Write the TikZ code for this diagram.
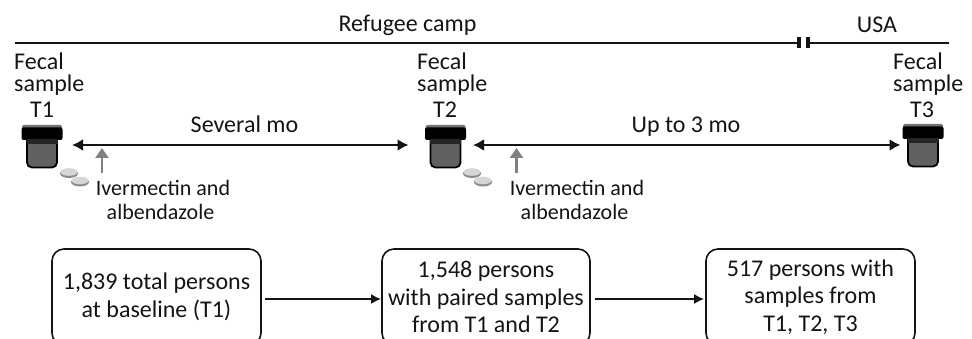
\documentclass[tikz,border=0pt]{standalone}
\usepackage{fontspec}
\setmainfont{Carlito}
\usetikzlibrary{arrows.meta,calc}
\definecolor{jarbody}{gray}{0.38}
\definecolor{pillc}{gray}{0.84}
\definecolor{inkc}{gray}{0.08}
\tikzset{
  x=1pt,y=-1pt,
  txt/.style={font=\fontsize{24}{24}\selectfont,text=inkc,inner sep=0pt,align=center,anchor=base},
  ltxt/.style={txt,anchor=base west},
  dtxt/.style={font=\fontsize{22}{24}\selectfont,text=inkc,inner sep=0pt,anchor=base},
  flowbox/.style={draw=inkc,line width=1.6pt,rounded corners=12pt,minimum height=96pt,inner sep=0pt,align=center,font=\fontsize{24}{27.5}\selectfont,text=inkc},
  conn/.style={draw=inkc,line width=2pt,-{Latex[length=10pt,width=10pt]}},
  dconn/.style={draw=inkc,line width=2.2pt,{Latex[length=11pt,width=12pt]}-{Latex[length=11pt,width=12pt]}},
  gconn/.style={draw=black!50,line width=2.2pt,-{Triangle[length=10pt,width=13pt]}},
  tline/.style={draw=inkc,line width=2.5pt},
  tbar/.style={draw=inkc,line width=3.5pt},
  jarnode/.style={minimum width=40pt,minimum height=45pt,inner sep=0pt,outer sep=0pt},
  jar/.pic={
    \draw[black,line width=1.8pt,fill=jarbody,rounded corners=5pt] (-15,-8) -- (-15,20) -- (15,20) -- (15,-8);
    \fill[black!55,rounded corners=1.5pt] (-20,-22.5) rectangle (20,-17);
    \fill[black,rounded corners=2pt] (-20.5,-20) rectangle (20.5,-7.5);
    \fill[black!85] (-15.5,-8) rectangle (15.5,-3.5);
  },
  pills/.pic={
    \fill[pillc!65!black] (0,1.5) ellipse (9 and 4.5);
    \fill[pillc] (0,0) ellipse (8.5 and 3.8);
    \fill[pillc!65!black] (11,10) ellipse (9 and 4.5);
    \fill[pillc] (11,8.5) ellipse (8.5 and 3.8);
  }
}
\begin{document}
\begin{tikzpicture}
\useasboundingbox (0,0) rectangle (972,339);
\clip (0,0) rectangle (972,339);
% timeline
\coordinate (tlA) at (15,43);
\coordinate (tlB) at (799,43);
\coordinate (tlC) at (808,43);
\coordinate (tlD) at (949,43);
\draw[tline] (tlA) -- (tlB);
\draw[tline] (tlC) -- (tlD);
\draw[tbar] ($(tlB)+(0,-5.5)$) -- ($(tlB)+(0,5.5)$);
\draw[tbar] ($(tlC)+(0,-5.5)$) -- ($(tlC)+(0,5.5)$);
\node[txt] (camp) at (407.5,32) {Refugee camp};
\node[txt] (usa) at (877,33) {USA};
% labels
\node[ltxt] (f1) at (14,70) {Fecal};
\node[ltxt] (s1) at (14,92) {sample};
\node[txt] (t1) at (42,118) {T1};
\node[ltxt] (f2) at (417,70) {Fecal};
\node[ltxt] (s2) at (417,92) {sample};
\node[txt] (t2) at (445,118) {T2};
\node[ltxt] (f3) at (893,70) {Fecal};
\node[ltxt] (s3) at (893,92) {sample};
\node[txt] (t3) at (922,118) {T3};
% jars
\pic at (42,147.5) {jar};
\pic at (445.5,147.5) {jar};
\pic at (923,146.5) {jar};
\pic at (69,172) {pills};
\pic at (472,172) {pills};
\node[jarnode] (j1) at (42,145) {};
\node[jarnode] (j2) at (445.5,145) {};
\node[jarnode] (j3) at (923,145) {};
\draw[dconn,shorten <=10pt,shorten >=17pt] (j1) -- (j2);
\draw[dconn,shorten <=7.5pt,shorten >=2.5pt] (j2) -- (j3);
\node[txt] (sev) at (244.5,133) {Several mo};
\node[txt] (up) at (686,133) {Up to 3 mo};
% drug labels
\node[dtxt] (iv1) at (163,196) {Ivermectin and};
\node[dtxt] (al1) at (160.5,220) {albendazole};
\node[dtxt] (iv2) at (577,196) {Ivermectin and};
\node[dtxt] (al2) at (574.5,220) {albendazole};
\coordinate (ga1) at (102,148);
\coordinate (ga2) at (516.5,148);
\coordinate (gb1) at (102,173);
\coordinate (gb2) at (516.5,173);
\draw[gconn] (gb1) -- (ga1);
\draw[gconn] (gb2) -- (ga2);
% boxes
\node[flowbox,minimum width=209pt] (b1) at (156.5,297) {1,839 total persons\\at baseline (T1)};
\node[flowbox,minimum width=208pt] (b2) at (486,297) {1,548 persons\\with paired samples\\from T1 and T2};
\node[flowbox,minimum width=209pt] (b3) at (810.5,297) {517 persons with\\samples from\\T1, T2, T3};
\draw[conn,shorten <=3pt] ($(b1.east)+(0,2)$) -- ($(b2.west)+(0,2)$);
\draw[conn,shorten <=4pt,shorten >=1pt] ($(b2.east)+(0,2)$) -- ($(b3.west)+(0,2)$);
\end{tikzpicture}
\end{document}
